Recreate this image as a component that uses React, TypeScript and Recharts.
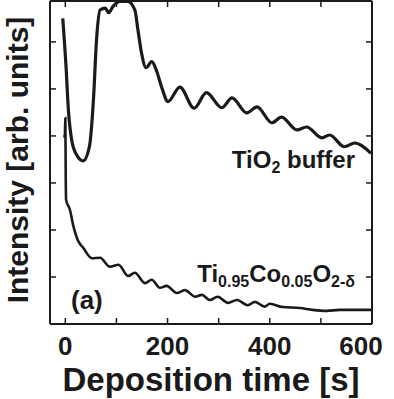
import { Line, LineChart, XAxis, YAxis } from "recharts";

// TiO2 buffer growth: time [s] and intensity [arb. units]
const bufferTime = [
  -5, 1.4, 6, 12.5, 22, 35, 47, 55, 61, 68, 78, 85, 93, 107, 122, 136, 142, 149,
  158, 169, 179, 188, 201, 224, 252, 276, 306, 326, 355, 375, 404, 423, 453, 472,
  502, 517, 546, 566, 598,
];
const bufferIntensity = [
  6.5, 5.47, 4.55, 3.91, 3.6, 3.47, 3.77, 4.77, 6.04, 6.68, 6.72, 6.62, 6.75,
  6.86, 6.86, 6.68, 6.26, 5.77, 5.45, 5.58, 5.37, 5.05, 4.73, 5.04, 4.59, 4.92,
  4.6, 4.81, 4.49, 4.62, 4.28, 4.4, 4.13, 4.19, 3.96, 4.02, 3.77, 3.85, 3.63,
];

// Ti0.95Co0.05O2-δ film growth
const filmTime = [
  -4, -1, 0, 0.8, 1.5, 9, 16, 24, 35, 52, 68, 87, 104, 123, 136, 156, 169, 185,
  198, 218, 234, 254, 267, 283, 298, 318, 336, 357, 371, 390, 400, 425, 459, 484,
  511, 537, 562, 598,
];
const filmIntensity = [
  3.99, 3.99, 4.38, 3.1, 2.64, 2.43, 2.07, 1.79, 1.62, 1.4, 1.41, 1.22, 1.26,
  1.02, 1.09, 0.87, 0.94, 0.77, 0.81, 0.66, 0.72, 0.58, 0.62, 0.51, 0.58, 0.45,
  0.51, 0.4, 0.47, 0.37, 0.43, 0.36, 0.34, 0.3, 0.28, 0.3, 0.3, 0.3,
];

const xTicks = [0, 100, 200, 300, 400, 500, 600];
const yTicks = [1, 2, 3, 4, 5, 6];
const X_DOMAIN = [-30, 600];
const Y_DOMAIN = [0, 6.87];

const bufferData = bufferTime.map((t, i) => ({ t, v: bufferIntensity[i] }));
const filmData = filmTime.map((t, i) => ({ t, v: filmIntensity[i] }));

const FONT = "'Liberation Sans', Arial, Helvetica, sans-serif";
const INK = "#1a1a1a";
const TICK = 6;

function BottomTick({ x, y, payload }: any) {
  const v = payload.value;
  const labelX = Math.min(x, 361);
  return (
    <g>
      <line x1={x} x2={x} y1={y} y2={y - TICK} stroke={INK} strokeWidth={1.5} />
      {v % 200 === 0 && (
        <text
          x={labelX}
          y={y + 31}
          textAnchor="middle"
          fontFamily={FONT}
          fontWeight="bold"
          fontSize={26}
          fill={INK}
        >
          {v}
        </text>
      )}
    </g>
  );
}

function TopTick({ x, y }: any) {
  return <line x1={x} x2={x} y1={y} y2={y + TICK} stroke={INK} strokeWidth={1.5} />;
}

function LeftTick({ x, y }: any) {
  return <line x1={x} x2={x + TICK} y1={y} y2={y} stroke={INK} strokeWidth={1.5} />;
}

function RightTick({ x, y }: any) {
  return <line x1={x} x2={x - TICK} y1={y} y2={y} stroke={INK} strokeWidth={1.5} />;
}

export default function App() {
  const axisLine = { stroke: INK, strokeWidth: 2 };
  return (
    <div style={{ position: "absolute", left: 0, top: 0, width: 394, height: 399, background: "#fff" }}>
      <LineChart
        width={394}
        height={399}
        margin={{ top: 0, right: 21, bottom: 74, left: 49 }}
      >
        <XAxis
          xAxisId="b"
          type="number"
          dataKey="t"
          domain={X_DOMAIN}
          ticks={xTicks}
          height={1}
          tickSize={0}
          tickMargin={0}
          axisLine={axisLine}
          tickLine={false}
          tick={<BottomTick />}
          interval={0}
        />
        <XAxis
          xAxisId="t"
          orientation="top"
          type="number"
          dataKey="t"
          domain={X_DOMAIN}
          ticks={xTicks}
          height={1}
          tickSize={0}
          tickMargin={0}
          axisLine={axisLine}
          tickLine={false}
          tick={<TopTick />}
          interval={0}
        />
        <YAxis
          yAxisId="l"
          type="number"
          domain={Y_DOMAIN}
          ticks={yTicks}
          width={1}
          tickSize={0}
          tickMargin={0}
          axisLine={axisLine}
          tickLine={false}
          tick={<LeftTick />}
          interval={0}
          allowDataOverflow
        />
        <YAxis
          yAxisId="r"
          orientation="right"
          type="number"
          domain={Y_DOMAIN}
          ticks={yTicks}
          width={1}
          tickSize={0}
          tickMargin={0}
          axisLine={axisLine}
          tickLine={false}
          tick={<RightTick />}
          interval={0}
          allowDataOverflow
        />
        {/* both axis pairs share the same domain, so each curve drives one pair */}
        <Line
          xAxisId="b"
          yAxisId="l"
          data={bufferData}
          dataKey="v"
          type="monotone"
          stroke={INK}
          strokeWidth={3.2}
          dot={false}
          isAnimationActive={false}
        />
        <Line
          xAxisId="t"
          yAxisId="r"
          data={filmData}
          dataKey="v"
          type="monotone"
          stroke={INK}
          strokeWidth={2.6}
          dot={false}
          isAnimationActive={false}
        />
      </LineChart>
      <svg
        width={394}
        height={399}
        style={{ position: "absolute", left: 0, top: 0, pointerEvents: "none" }}
        fontFamily={FONT}
        fontWeight="bold"
        fill={INK}
      >
        <text x={211} y={391} textAnchor="middle" fontSize={33}>
          Deposition time [s]
        </text>
        <text
          transform="translate(28,160) rotate(-90)"
          textAnchor="middle"
          fontSize={30}
        >
          Intensity [arb. units]
        </text>
        <text x={355} y={168} textAnchor="end" fontSize={24}>
          TiO
          <tspan fontSize={16} dy={5}>2</tspan>
          <tspan dy={-5}> buffer</tspan>
        </text>
        <text x={355} y={282} textAnchor="end" fontSize={24}>
          Ti
          <tspan fontSize={16} dy={5}>0.95</tspan>
          <tspan dy={-5}>Co</tspan>
          <tspan fontSize={16} dy={5}>0.05</tspan>
          <tspan dy={-5}>O</tspan>
          <tspan fontSize={16} dy={5}>2-δ</tspan>
        </text>
        <text x={71} y={309} fontSize={26}>
          (a)
        </text>
      </svg>
    </div>
  );
}
